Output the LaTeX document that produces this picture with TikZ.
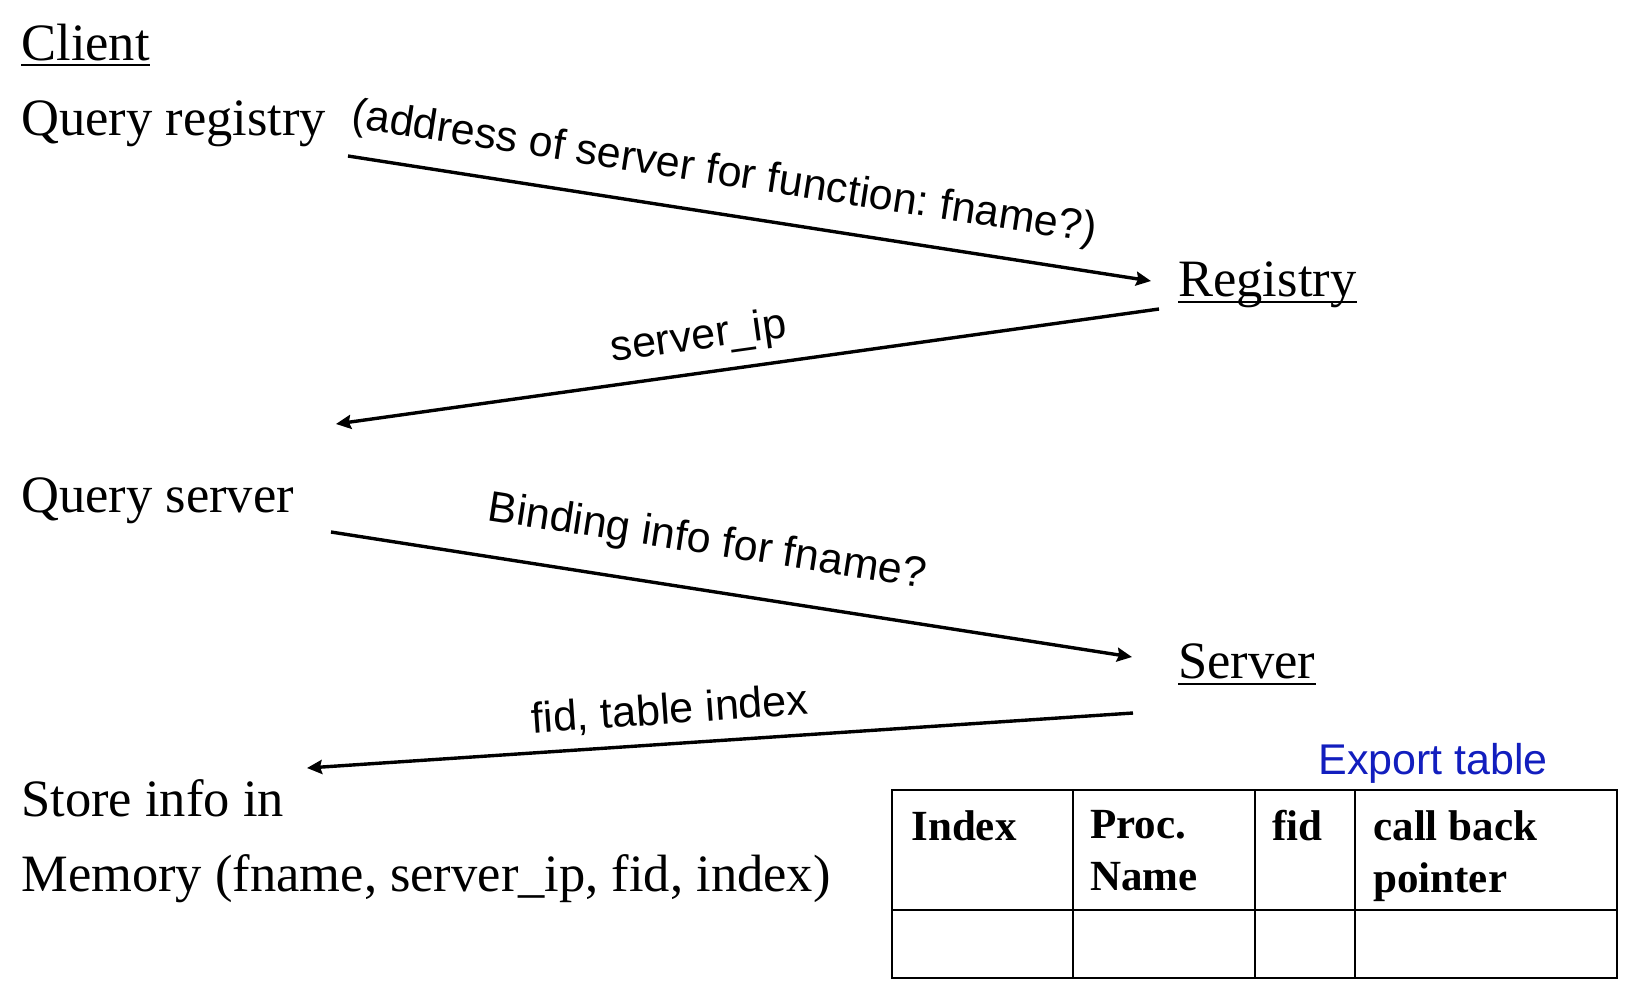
\documentclass[tikz,border=0pt]{standalone}
\usepackage{fontspec}
\setmainfont{Liberation Serif}
\newfontfamily\arial{Liberation Sans}
\usetikzlibrary{arrows.meta}
\definecolor{tblue}{RGB}{18,30,190}
\frenchspacing
\begin{document}
\begin{tikzpicture}[x=0.5pt,y=-0.5pt,
  lbl/.style={anchor=base west,inner sep=0pt,font=\fontsize{26.25}{30}\selectfont},
  msg/.style={inner sep=0pt,font=\arial\fontsize{21.5}{25}\selectfont},
  arr/.style={line width=1.7pt,-{Stealth[length=7.5pt,width=7pt,inset=1pt]}},
  uline/.style={line width=1pt},
  hdr/.style={anchor=north west,inner sep=0pt,font=\bfseries\fontsize{21.5}{26}\selectfont,align=left},
  grid/.style={line width=1pt},
]
\useasboundingbox (0,0) rectangle (1630,998);

% left column texts
\node[lbl] (client) at (21,60) {Client};
\draw[uline] ([yshift=-2.6pt]client.base west) -- ([yshift=-2.6pt]client.base east);
\node[lbl] (qreg) at (21,135) {Query registry};
\node[lbl] (qsrv) at (21,512) {Query server};
\node[lbl] (store) at (21,816) {Store info in};
\node[lbl] (mem) at (21,891) {Memory (fname, server\_ip, fid, index)};

% right side
\node[lbl] (reg) at (1178,296) {Registry};
\draw[uline] ([yshift=-3pt]reg.base west) -- ([yshift=-3pt]reg.base east);
\node[lbl] (srv) at (1178,678) {Server};
\draw[uline] ([yshift=-3pt]srv.base west) -- ([yshift=-3pt]srv.base east);

% arrow end points
\coordinate (a1s) at (348,156);
\coordinate (a1e) at (1151,281);
\coordinate (a2s) at (1159,309);
\coordinate (a2e) at (336,424);
\coordinate (a3s) at (331,532);
\coordinate (a3e) at (1132,657);
\coordinate (a4s) at (1133,713);
\coordinate (a4e) at (307,768);

\draw[arr] (a1s) -- (a1e);
\draw[arr] (a2s) -- (a2e);
\draw[arr] (a3s) -- (a3e);
\draw[arr] (a4s) -- (a4e);

\node[msg,rotate=-8.8] (m1) at (724,174) {(address of server for function: fname?)};
\node[msg,rotate=8] (m2) at (699,338) {server\_ip};
\node[msg,rotate=-8.8] (m3) at (707,543) {Binding info for fname?};
\node[msg,rotate=4] (m4) at (670,711) {fid, table index};

% export table
\node[msg,anchor=base west,text=tblue] (exp) at (1318,774) {Export table};
\draw[grid] (892,790) rectangle (1617,978);
\draw[grid] (892,910) -- (1617,910);
\draw[grid] (1073,790) -- (1073,978);
\draw[grid] (1255,790) -- (1255,978);
\draw[grid] (1355,790) -- (1355,978);
\node[hdr] (h1) at (911,810) {Index};
\node[hdr] (h2) at (1090,810) {Proc.\\Name};
\node[hdr] (h3) at (1272,810) {fid};
\node[hdr] (h4) at (1373,810) {call back\\pointer};
\end{tikzpicture}
\end{document}
